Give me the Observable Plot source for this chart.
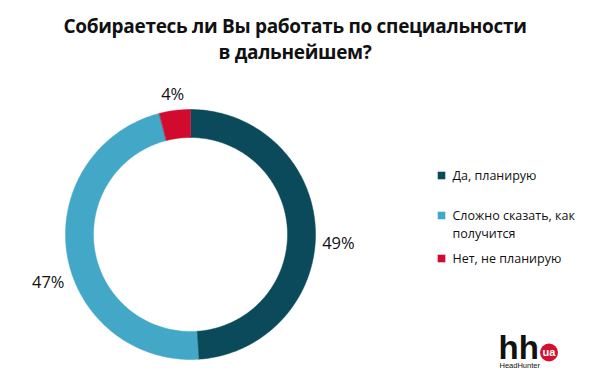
<!DOCTYPE html>
<html>
<head>
<meta charset="utf-8">
<script src="https://cdn.jsdelivr.net/npm/d3@7"></script>
<script src="https://cdn.jsdelivr.net/npm/@observablehq/plot@0.6"></script>
<style>
  html, body { margin: 0; padding: 0; background: #fff; }
  #wrap { width: 590px; height: 385px; overflow: hidden; }
  #title { height: 80px; box-sizing: border-box; padding-top: 13px; text-align: center;
           font-family: "Open Sans", Lato, sans-serif; font-weight: 700; font-size: 19px;
           line-height: 26px; color: #111; letter-spacing: -0.3px; }
  svg { display: block; }
</style>
</head>
<body>
<div id="wrap">
  <div id="title">Собираетесь ли Вы работать по специальности<br>в дальнейшем?</div>
  <div id="chart"></div>
</div>
<script>
// ---- data ----
const categories = ["Да, планирую", "Сложно сказать, как получится", "Нет, не планирую"];
const values = [49, 47, 4];
const colors = ["#0b4a5b", "#43a8c8", "#d10a2e"];
const legendLines = [["Да, планирую"], ["Сложно сказать, как", "получится"], ["Нет, не планирую"]];

// ---- layout ----
const W = 590, H = 305;
const cx = 190, cy = 154, R = 125, r0 = 97, labelR = 142;
const labelNudge = [[6, 14], [-2, 26], [0, 1]];

const pie = d3.pie().sort(null).value(d => d.value)(categories.map((c, i) => ({key: c, value: values[i]})));

const ringPts = [];
pie.forEach(s => {
  const n = Math.max(4, Math.ceil((s.endAngle - s.startAngle) * 60));
  const outer = d3.range(n + 1).map(k => s.startAngle + (s.endAngle - s.startAngle) * k / n);
  outer.forEach(t => ringPts.push({key: s.data.key, x: cx + R * Math.sin(t), y: cy - R * Math.cos(t)}));
  outer.slice().reverse().forEach(t => ringPts.push({key: s.data.key, x: cx + r0 * Math.sin(t), y: cy - r0 * Math.cos(t)}));
});

const labels = pie.map((s, i) => {
  const m = (s.startAngle + s.endAngle) / 2;
  return {
    text: `${values[i]}%`,
    x: cx + labelR * Math.sin(m) + labelNudge[i][0],
    y: cy - labelR * Math.cos(m) + labelNudge[i][1]
  };
});

const legendY = [95, 135, 178];
const legendItems = categories.map((c, i) => ({key: c, x: 441, y: legendY[i]}));
const legendText = [];
legendLines.forEach((lines, i) => lines.forEach((t, j) => legendText.push({text: t, x: 452, y: legendY[i] + j * 18})));

const font = "Open Sans, Lato, sans-serif";

const plot = Plot.plot({
  width: W, height: H,
  margin: 0,
  x: {domain: [0, W], range: [0, W], axis: null},
  y: {domain: [0, H], range: [0, H], axis: null},
  color: {domain: categories, range: colors},
  style: {fontFamily: font, background: "white"},
  marks: [
    Plot.line(ringPts, {x: "x", y: "y", z: "key", fill: "key", stroke: "key", strokeWidth: 0.5, curve: "linear-closed"}),
    Plot.text(labels, {x: "x", y: "y", text: "text", fontSize: 16.5, fill: "#111", fontFamily: font}),
    Plot.dot(legendItems, {x: "x", y: "y", fill: "key", symbol: "square", r: 4.3, stroke: null}),
    Plot.text(legendText, {x: "x", y: "y", text: "text", textAnchor: "start", fontSize: 12.5, fill: "#111", fontFamily: font}),
    // logo
    Plot.text(["hh"], {x: () => 498, y: () => 278, text: d => d, textAnchor: "start", lineAnchor: "bottom", fontSize: 33, fontWeight: 700, fill: "#111", fontFamily: "Liberation Sans, Arial, sans-serif", style: "letter-spacing:-1.5px"}),
    Plot.dot([0], {x: () => 548.5, y: () => 272, r: 9, fill: "#d4102f", stroke: null}),
    Plot.text(["ua"], {x: () => 548.5, y: () => 271.5, text: d => d, fontSize: 11, fontWeight: 700, fill: "white", fontFamily: "Liberation Sans, Arial, sans-serif"}),
    Plot.text(["HeadHunter"], {x: () => 499, y: () => 285, text: d => d, textAnchor: "start", fontSize: 7.5, fill: "#111", fontFamily: "Liberation Sans, Arial, sans-serif"})
  ]
});
document.getElementById("chart").appendChild(plot);
</script>
</body>
</html>
